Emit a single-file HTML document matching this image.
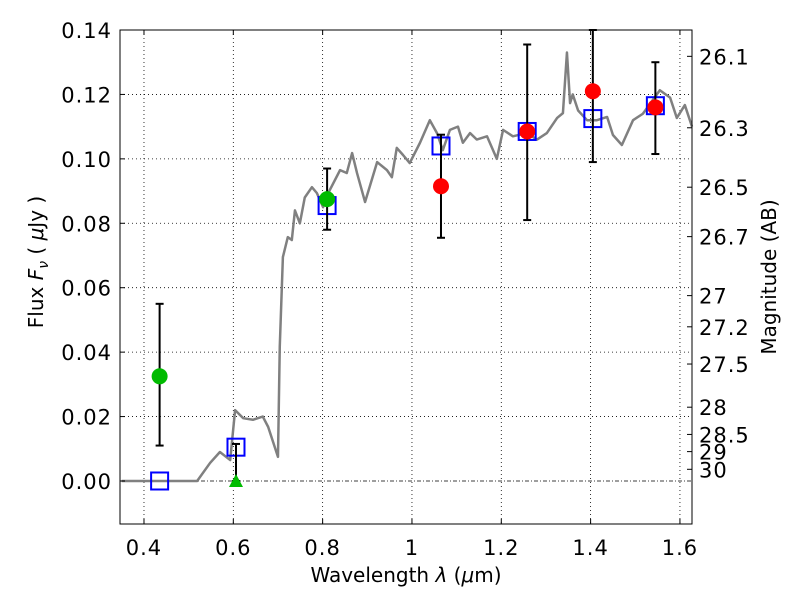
<!DOCTYPE html>
<html><head><meta charset="utf-8"><style>
body{margin:0;background:#fff;}
svg text{font-family:"DejaVu Sans","Liberation Sans",sans-serif;}
</style></head><body>
<svg id="chart" width="800" height="600" xmlns="http://www.w3.org/2000/svg">
<rect width="800" height="600" fill="#fff"/>
<g id="grid"></g>
<g id="spec"></g>
<g id="marks"></g>
<rect x="120" y="30" width="572" height="494" fill="none" stroke="#000" stroke-width="1"/>
<g id="axes"></g>
<text x="406" y="582" font-size="20" text-anchor="middle">Wavelength  <tspan font-style="italic">λ</tspan> (<tspan font-style="italic">μ</tspan>m)</text>
<text transform="translate(43,262) rotate(-90)" font-size="20" text-anchor="middle">Flux  <tspan font-style="italic">F</tspan><tspan font-style="italic" font-size="14" dy="5">ν</tspan><tspan dy="-5">  ( </tspan><tspan font-style="italic">μ</tspan>Jy )</text>
<text transform="translate(776,277) rotate(-90)" font-size="20" text-anchor="middle">Magnitude (AB)</text>
</svg>
<script>
const xTicks=[0.4,0.6,0.8,1.0,1.2,1.4,1.6];
const xTickLabels=["0.4","0.6","0.8","1","1.2","1.4","1.6"];
const yTicks=[0,0.02,0.04,0.06,0.08,0.10,0.12,0.14];
const yTickLabels=["0.00","0.02","0.04","0.06","0.08","0.10","0.12","0.14"];
const magTicks=[26.1,26.3,26.5,26.7,27,27.2,27.5,28,28.5,29,30];
const specWave=[0.35,0.519,0.548,0.570,0.593,0.604,0.622,0.644,0.666,0.678,0.700,0.704,0.711,0.722,0.731,0.738,0.749,0.760,0.776,0.787,0.801,0.816,0.839,0.854,0.866,0.877,0.895,0.922,0.944,0.955,0.966,0.980,0.995,1.018,1.040,1.056,1.069,1.085,1.103,1.114,1.130,1.145,1.168,1.190,1.204,1.226,1.257,1.280,1.302,1.325,1.338,1.347,1.354,1.360,1.372,1.392,1.414,1.437,1.450,1.470,1.495,1.517,1.555,1.578,1.593,1.611,1.627];
const specFlux=[0,0,0.0056,0.009,0.0065,0.022,0.0195,0.019,0.020,0.0168,0.0075,0.0416,0.0695,0.0757,0.0748,0.084,0.080,0.088,0.0912,0.0894,0.085,0.0903,0.0965,0.0956,0.1018,0.0956,0.0866,0.099,0.0965,0.0943,0.1034,0.1012,0.0987,0.105,0.112,0.108,0.1027,0.109,0.110,0.105,0.108,0.106,0.107,0.100,0.109,0.107,0.108,0.106,0.108,0.1127,0.1142,0.133,0.1173,0.120,0.115,0.112,0.112,0.113,0.1074,0.1043,0.112,0.114,0.1213,0.119,0.1127,0.1167,0.110];
const greenWave=[0.435,0.81];
const greenFlux=[0.0325,0.0875];
const greenLo=[0.011,0.078];
const greenHi=[0.055,0.097];
const triWave=[0.606];
const triFlux=[0.0];
const triHi=[0.0115];
const redWave=[1.065,1.258,1.405,1.545];
const redFlux=[0.0915,0.1085,0.121,0.116];
const redLo=[0.0755,0.081,0.099,0.1015];
const redHi=[0.1075,0.1355,0.150,0.130];
const sqWave=[0.435,0.606,0.81,1.065,1.258,1.405,1.545];
const sqFlux=[0.0,0.0105,0.0855,0.104,0.1085,0.1125,0.1165];

const X0=120,X1=692,Y0=30,Y1=524,xmin=0.3463,xmax=1.627,ymin=-0.01335,ymax=0.14;
const sx=v=>X0+(v-xmin)/(xmax-xmin)*(X1-X0);
const sy=v=>Y1-(v-ymin)/(ymax-ymin)*(Y1-Y0);
const NS="http://www.w3.org/2000/svg";
function mk(tag,parent,attrs){const e=document.createElementNS(NS,tag);for(const k in attrs)e.setAttribute(k,attrs[k]);document.getElementById(parent).appendChild(e);return e;}

xTicks.forEach((t,i)=>{
  const l=mk('line','grid',{x1:sx(t),x2:sx(t),y1:Y0,y2:Y1,stroke:'#000','stroke-width':0.8,'stroke-dasharray':'1,3'});
  
  
  mk('line','axes',{x1:sx(t),x2:sx(t),y1:Y1,y2:Y1-5,stroke:'#000'});
  mk('line','axes',{x1:sx(t),x2:sx(t),y1:Y0,y2:Y0+5,stroke:'#000'});
  const tx=mk('text','axes',{x:sx(t),y:Y1+31,'font-size':21,'text-anchor':'middle','letter-spacing':1});
  tx.textContent=xTickLabels[i];
  
  
});
yTicks.forEach((t,i)=>{
  const l=mk('line','grid',{x1:X0,x2:X1,y1:sy(t),y2:sy(t),stroke:'#000','stroke-width':0.8,'stroke-dasharray':t===0?'4,2,1,2':'1,3'});
  
  
  mk('line','axes',{x1:X0,x2:X0+5,y1:sy(t),y2:sy(t),stroke:'#000'});
  const tx=mk('text','axes',{x:X0-8,y:sy(t)+8,'font-size':21,'text-anchor':'end','letter-spacing':1});
  tx.textContent=yTickLabels[i];
  
  
});
magTicks.forEach(m=>{
  const f=Math.pow(10,(23.9-m)/2.5);
  const y=sy(f);
  mk('line','axes',{x1:X1,x2:X1-5,y1:y,y2:y,stroke:'#000'});
  const tx=mk('text','axes',{x:X1+7,y:y+8,'font-size':21,'letter-spacing':1});
  tx.textContent=String(m);
  
  
});
const p=mk('polyline','spec',{points:specWave.map((w,i)=>sx(w)+','+sy(specFlux[i])).join(' '),fill:'none',stroke:'#808080','stroke-width':2.5,'stroke-linejoin':'round'});



function errbar(w,lo,hi){
  const x=sx(w);
  mk('line','marks',{x1:x,x2:x,y1:sy(lo),y2:sy(hi),stroke:'#000','stroke-width':2});
  mk('line','marks',{x1:x-4,x2:x+4,y1:sy(lo),y2:sy(lo),stroke:'#000','stroke-width':2});
  mk('line','marks',{x1:x-4,x2:x+4,y1:sy(hi),y2:sy(hi),stroke:'#000','stroke-width':2});
}
sqWave.forEach((w,i)=>{
  const r=mk('rect','marks',{x:sx(w)-8.5,y:sy(sqFlux[i])-8.5,width:17,height:17,fill:'none',stroke:'#0000ff','stroke-width':2});
  
  
});
greenWave.forEach((w,i)=>{
  errbar(w,greenLo[i],greenHi[i]);
  const c=mk('circle','marks',{cx:sx(w),cy:sy(greenFlux[i]),r:8,fill:'#00bb00'});
  
  
});
triWave.forEach((w,i)=>{
  errbar(w,triFlux[i],triHi[i]);
  const x=sx(w),y=sy(triFlux[i]);
  const t=mk('polygon','marks',{points:`${x},${y-7} ${x-7},${y+6} ${x+7},${y+6}`,fill:'#00bb00'});
  
  
});
redWave.forEach((w,i)=>{
  errbar(w,redLo[i],Math.min(redHi[i],ymax));
  const c=mk('circle','marks',{cx:sx(w),cy:sy(redFlux[i]),r:8,fill:'#ff0000'});
  
  
});
</script>
</body></html>
